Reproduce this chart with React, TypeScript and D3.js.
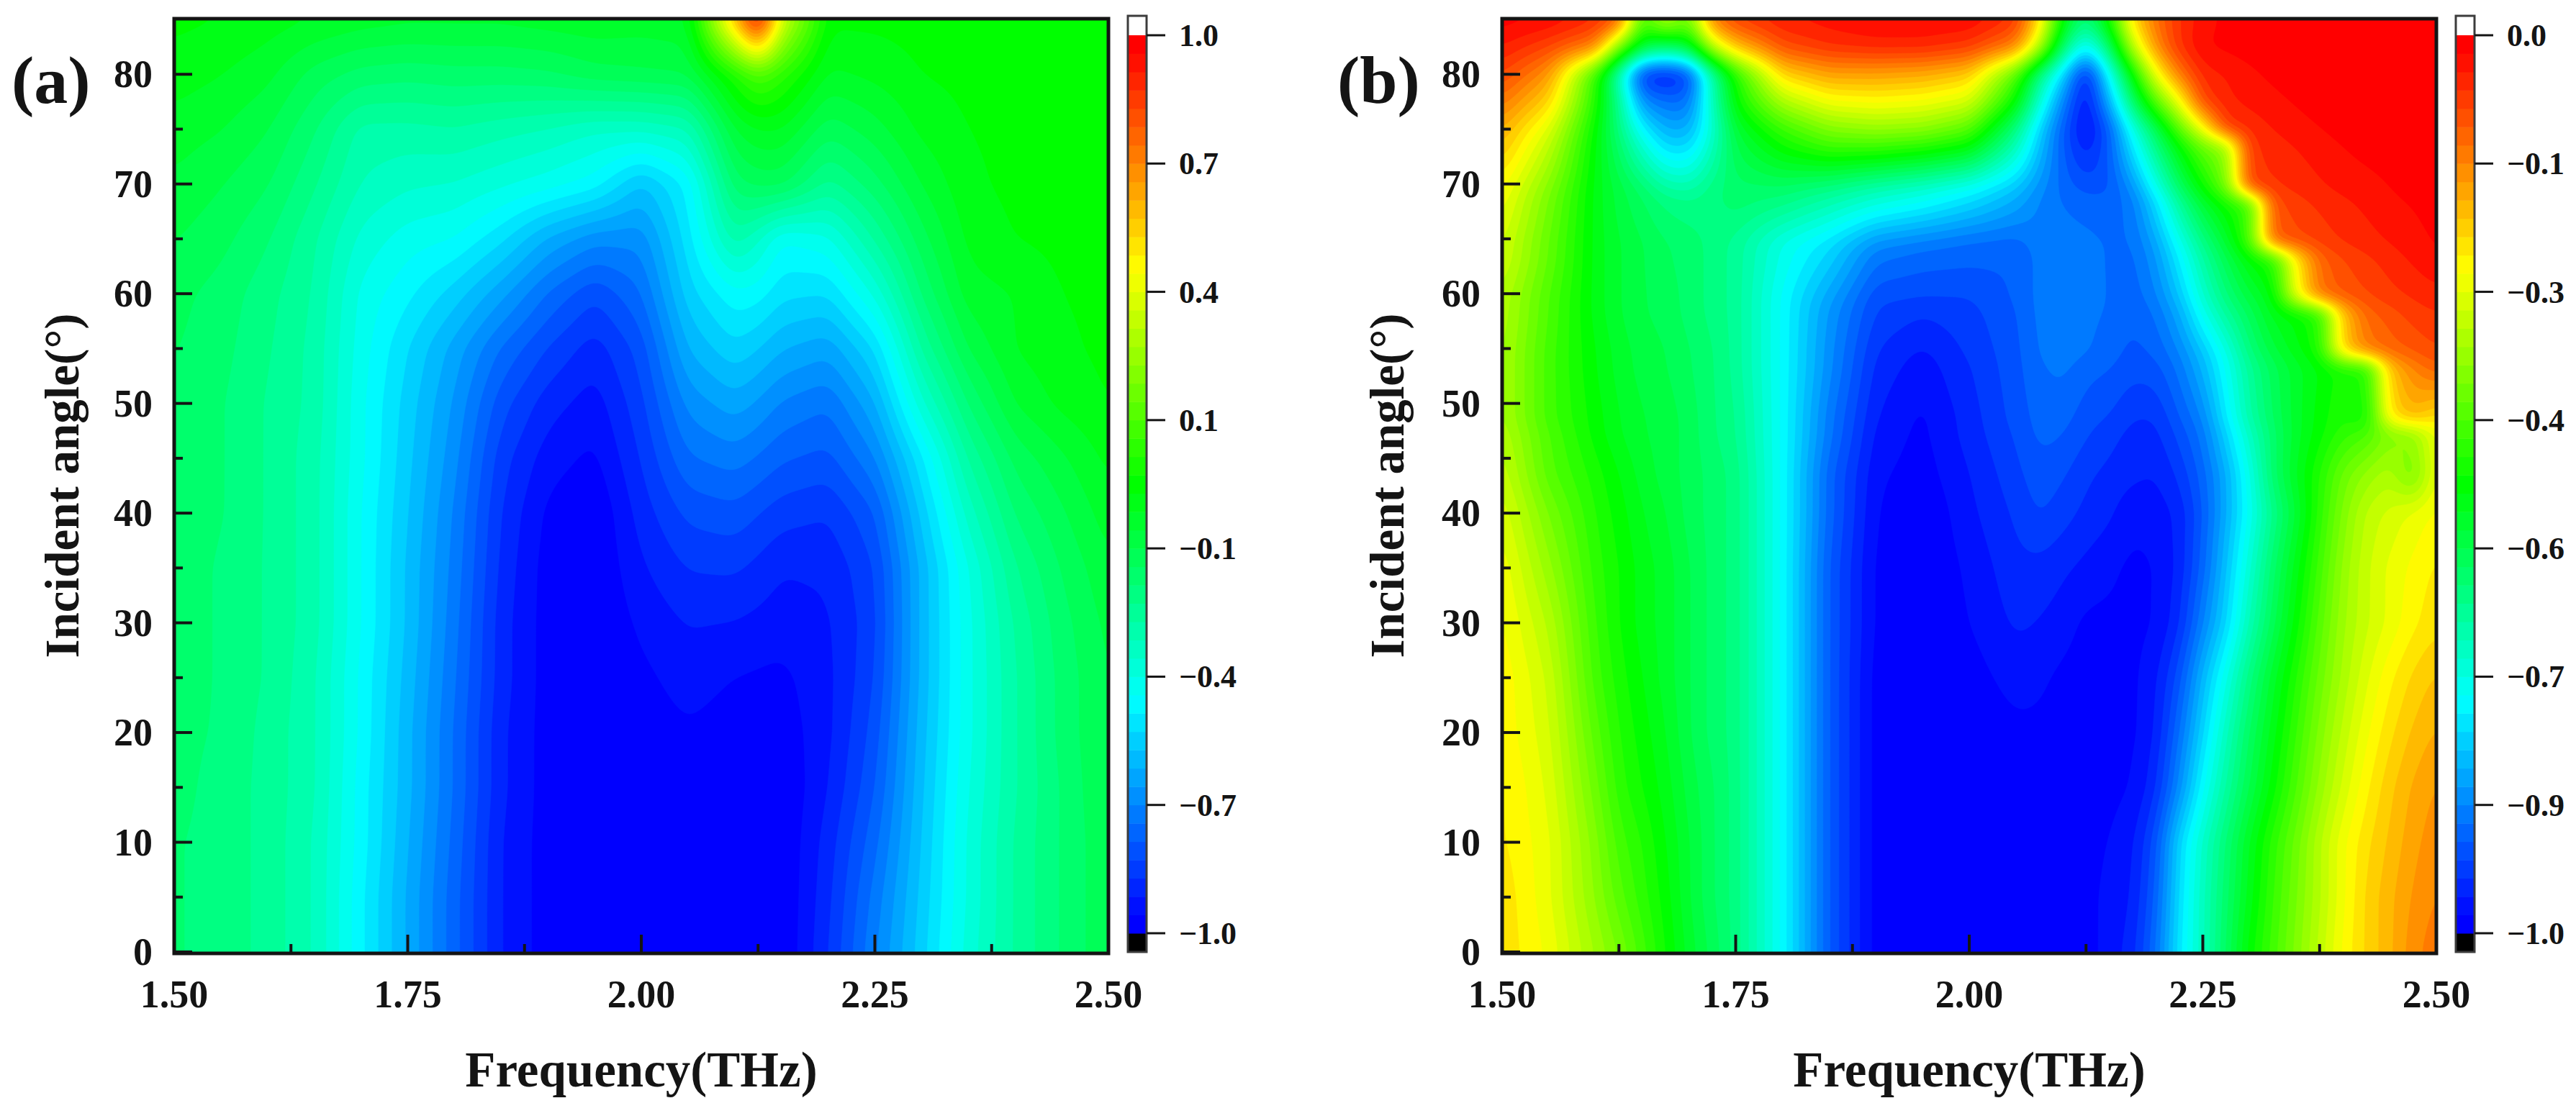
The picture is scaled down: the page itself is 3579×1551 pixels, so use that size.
import React, { useMemo } from "react";
import * as d3 from "d3";

const WIDTH = 3579;
const HEIGHT = 1551;

// ---- panel (a): values; rows from 85° down to 0°
const anglesA = [85, 80, 75, 70, 65, 60, 55, 50, 45, 40, 35, 30, 25, 20, 15, 10, 5, 0];
const freqsA = [1.5, 1.55, 1.6, 1.65, 1.7, 1.75, 1.8, 1.85, 1.9, 1.95, 2.0, 2.05, 2.1, 2.125, 2.15, 2.2, 2.25, 2.3, 2.35, 2.4, 2.45, 2.5];
const valuesA = [
  [-.01, -.02, -.04, -.06, -.08, -.09, -.09, -.09, -.08, -.07, -.08, -.07, .6, 1, .4, -.01, -.01, -.005, 0, 0, 0, 0],
  [-.04, -.06, -.09, -.16, -.2, -.21, -.2, -.2, -.19, -.16, -.15, -.14, .05, .15, .08, -.07, -.05, -.02, -.01, 0, 0, 0],
  [-.08, -.1, -.14, -.22, -.32, -.32, -.31, -.33, -.35, -.38, -.38, -.35, -.1, -.06, -.06, -.17, -.12, -.05, -.02, -.01, 0, 0],
  [-.11, -.14, -.18, -.26, -.35, -.38, -.39, -.42, -.45, -.49, -.6, -.5, -.2, -.17, -.17, -.28, -.2, -.1, -.03, -.01, -.01, 0],
  [-.14, -.17, -.22, -.3, -.4, -.45, -.47, -.54, -.64, -.7, -.7, -.53, -.32, -.38, -.47, -.44, -.3, -.16, -.05, -.02, -.01, 0],
  [-.17, -.2, -.25, -.31, -.44, -.5, -.57, -.66, -.76, -.83, -.76, -.57, -.48, -.49, -.54, -.55, -.42, -.22, -.08, -.06, -.02, -.01],
  [-.18, -.21, -.26, -.32, -.45, -.55, -.65, -.76, -.84, -.9, -.82, -.63, -.56, -.59, -.63, -.66, -.55, -.3, -.14, -.06, -.03, -.01],
  [-.19, -.22, -.27, -.32, -.46, -.57, -.68, -.82, -.9, -.94, -.85, -.7, -.65, -.68, -.72, -.75, -.64, -.4, -.22, -.1, -.05, -.02],
  [-.19, -.22, -.27, -.33, -.46, -.58, -.7, -.86, -.94, -.97, -.875, -.76, -.735, -.76, -.79, -.81, -.72, -.52, -.3, -.17, -.11, -.05],
  [-.2, -.22, -.27, -.33, -.47, -.59, -.72, -.88, -.97, -1, -.9, -.825, -.81, -.835, -.86, -.875, -.8, -.58, -.37, -.22, -.15, -.08],
  [-.2, -.23, -.27, -.33, -.47, -.6, -.73, -.89, -.98, -1, -.925, -.875, -.87, -.89, -.915, -.91, -.84, -.62, -.43, -.27, -.18, -.11],
  [-.2, -.23, -.27, -.33, -.47, -.6, -.74, -.9, -.98, -1, -.95, -.915, -.92, -.93, -.94, -.925, -.85, -.62, -.44, -.3, -.2, -.13],
  [-.2, -.23, -.27, -.34, -.48, -.61, -.75, -.9, -.98, -1, -.97, -.94, -.96, -.965, -.97, -.93, -.84, -.62, -.44, -.31, -.21, -.14],
  [-.21, -.23, -.28, -.34, -.48, -.62, -.76, -.91, -.98, -1, -.985, -.965, -.98, -.985, -.985, -.93, -.82, -.61, -.44, -.31, -.21, -.14],
  [-.21, -.24, -.28, -.34, -.49, -.62, -.76, -.91, -.98, -1, -1, -.98, -1, -1, -1, -.92, -.8, -.6, -.43, -.31, -.22, -.14],
  [-.22, -.24, -.28, -.35, -.49, -.63, -.77, -.92, -.98, -1, -1, -1, -1, -1, -1, -.9, -.77, -.59, -.42, -.3, -.22, -.15],
  [-.22, -.24, -.28, -.35, -.5, -.64, -.78, -.92, -.98, -1, -1, -1, -1, -1, -1, -.89, -.74, -.58, -.42, -.3, -.22, -.15],
  [-.22, -.24, -.28, -.35, -.5, -.64, -.78, -.92, -.98, -1, -1, -1, -1, -1, -1, -.88, -.72, -.57, -.41, -.3, -.22, -.15],
];

// ---- panel (b): rows bracket the shelves of the stair-stepped edge
const anglesB = [85, 82.5, 80, 77.5, 75, 73.5, 69.5, 68.5, 64.5, 63.5, 59.5, 58.5, 54.5, 53.5, 48.5, 47.5, 43.5, 40, 35, 30, 25, 20, 15, 10, 5, 0];
const freqsB = [1.5, 1.55, 1.6, 1.625, 1.65, 1.675, 1.7, 1.725, 1.75, 1.8, 1.85, 1.9, 1.95, 2.0, 2.05, 2.075, 2.1, 2.125, 2.15, 2.175, 2.2, 2.225, 2.25, 2.275, 2.3, 2.325, 2.35, 2.375, 2.4, 2.425, 2.45, 2.475, 2.5];
const valuesB = [
  [-.01, -.02, -.05, -.08, -.44, -.3, -.4, -.12, -.07, -.04, -.03, -.02, -.02, -.02, -.06, -.22, -.5, -.62, -.48, -.22, -.12, -.06, -.03, -.015, -.01, -.01, -.01, 0, 0, 0, 0, 0, 0],
  [-.04, -.08, -.14, -.38, -.55, -.6, -.55, -.32, -.2, -.09, -.06, -.05, -.05, -.07, -.14, -.32, -.6, -.76, -.6, -.32, -.15, -.06, -.02, -.015, -.01, -.01, -.01, 0, 0, 0, 0, 0, 0],
  [-.08, -.16, -.45, -.68, -.95, -.97, -.93, -.66, -.47, -.22, -.17, -.17, -.18, -.21, -.42, -.62, -.78, -.97, -.74, -.5, -.27, -.13, -.05, -.04, -.025, -.015, -.005, -.005, 0, 0, 0, 0, 0],
  [-.13, -.22, -.47, -.64, -.85, -.88, -.88, -.68, -.5, -.34, -.27, -.26, -.27, -.3, -.5, -.7, -.86, -.98, -.82, -.6, -.42, -.27, -.08, -.045, -.035, -.028, -.018, -.01, -.005, 0, 0, 0, 0],
  [-.18, -.29, -.5, -.62, -.75, -.82, -.82, -.7, -.55, -.45, -.38, -.36, -.37, -.42, -.62, -.78, -.9, -.98, -.9, -.72, -.58, -.42, -.27, -.07, -.055, -.04, -.03, -.021, -.012, -.008, -.005, 0, 0],
  [-.2, -.32, -.51, -.6, -.7, -.78, -.78, -.68, -.57, -.49, -.44, -.44, -.46, -.5, -.67, -.8, -.9, -.96, -.9, -.76, -.62, -.5, -.4, -.36, -.065, -.05, -.04, -.03, -.02, -.012, -.008, -.005, 0],
  [-.26, -.38, -.52, -.56, -.6, -.65, -.66, -.62, -.6, -.6, -.63, -.67, -.7, -.74, -.8, -.85, -.885, -.905, -.905, -.85, -.73, -.6, -.5, -.4, -.08, -.065, -.055, -.045, -.035, -.03, -.021, -.012, -.008],
  [-.27, -.39, -.52, -.56, -.59, -.62, -.63, -.62, -.6, -.62, -.66, -.7, -.73, -.77, -.82, -.86, -.88, -.89, -.89, -.87, -.77, -.64, -.54, -.48, -.44, -.09, -.07, -.055, -.045, -.035, -.025, -.018, -.01],
  [-.3, -.41, -.52, -.55, -.57, -.59, -.6, -.62, -.64, -.72, -.77, -.85, -.87, -.885, -.89, -.865, -.865, -.87, -.88, -.88, -.83, -.73, -.63, -.55, -.44, -.11, -.09, -.075, -.06, -.05, -.04, -.03, -.018],
  [-.3, -.41, -.52, -.55, -.57, -.59, -.6, -.62, -.64, -.72, -.78, -.87, -.885, -.89, -.895, -.87, -.865, -.87, -.88, -.885, -.84, -.75, -.65, -.57, -.5, -.46, -.24, -.11, -.08, -.065, -.05, -.035, -.02],
  [-.33, -.43, -.52, -.55, -.57, -.58, -.6, -.62, -.64, -.74, -.83, -.915, -.92, -.92, -.895, -.87, -.865, -.865, -.88, -.89, -.865, -.8, -.7, -.62, -.56, -.52, -.28, -.13, -.1, -.085, -.07, -.06, -.05],
  [-.33, -.43, -.52, -.55, -.57, -.58, -.6, -.62, -.64, -.74, -.84, -.92, -.935, -.925, -.9, -.87, -.865, -.87, -.88, -.895, -.875, -.82, -.72, -.64, -.58, -.52, -.5, -.46, -.2, -.11, -.09, -.07, -.06],
  [-.34, -.44, -.51, -.54, -.56, -.57, -.59, -.61, -.64, -.74, -.85, -.94, -.965, -.935, -.905, -.875, -.865, -.875, -.89, -.905, -.895, -.86, -.8, -.72, -.62, -.56, -.52, -.48, -.22, -.14, -.115, -.1, -.085],
  [-.34, -.44, -.51, -.54, -.56, -.57, -.59, -.61, -.64, -.74, -.85, -.945, -.97, -.94, -.905, -.88, -.87, -.89, -.895, -.91, -.905, -.87, -.81, -.73, -.64, -.58, -.54, -.51, -.48, -.47, -.2, -.14, -.1],
  [-.34, -.44, -.5, -.53, -.55, -.56, -.58, -.61, -.63, -.74, -.87, -.96, -.985, -.95, -.91, -.89, -.89, -.91, -.92, -.94, -.94, -.9, -.86, -.76, -.66, -.59, -.54, -.5, -.47, -.5, -.24, -.19, -.24],
  [-.33, -.43, -.5, -.53, -.55, -.56, -.58, -.61, -.63, -.74, -.87, -.965, -.985, -.95, -.915, -.89, -.895, -.915, -.93, -.945, -.945, -.91, -.87, -.78, -.68, -.6, -.54, -.5, -.46, -.44, -.38, -.36, -.27],
  [-.31, -.42, -.48, -.51, -.54, -.56, -.58, -.6, -.62, -.74, -.89, -.975, -.99, -.96, -.925, -.905, -.915, -.935, -.945, -.955, -.96, -.935, -.89, -.82, -.72, -.6, -.53, -.47, -.4, -.36, -.33, -.4, -.27],
  [-.29, -.39, -.47, -.5, -.53, -.55, -.58, -.6, -.62, -.74, -.89, -.98, -1, -.965, -.935, -.915, -.93, -.945, -.955, -.975, -.97, -.955, -.9, -.82, -.73, -.63, -.55, -.46, -.38, -.32, -.3, -.28, -.26],
  [-.27, -.36, -.46, -.49, -.52, -.54, -.57, -.6, -.62, -.74, -.9, -.985, -1, -.975, -.945, -.945, -.955, -.965, -.975, -.985, -.98, -.955, -.89, -.8, -.7, -.6, -.52, -.44, -.36, -.31, -.28, -.26, -.24],
  [-.26, -.33, -.45, -.49, -.52, -.54, -.57, -.6, -.62, -.74, -.9, -.985, -1, -.98, -.955, -.96, -.97, -.985, -.985, -.985, -.98, -.945, -.86, -.78, -.67, -.58, -.5, -.42, -.35, -.31, -.28, -.25, -.23],
  [-.25, -.31, -.44, -.48, -.51, -.54, -.57, -.6, -.62, -.74, -.9, -.99, -1, -.99, -.97, -.975, -.985, -.99, -.99, -.985, -.965, -.91, -.81, -.72, -.62, -.54, -.47, -.4, -.34, -.29, -.25, -.22, -.2],
  [-.25, -.3, -.42, -.47, -.5, -.53, -.57, -.6, -.62, -.74, -.9, -.99, -1, -1, -.985, -.985, -.99, -.99, -.99, -.985, -.96, -.88, -.78, -.68, -.59, -.52, -.45, -.38, -.32, -.27, -.23, -.2, -.18],
  [-.24, -.29, -.4, -.46, -.49, -.52, -.56, -.59, -.62, -.74, -.9, -.99, -1, -1, -.99, -.99, -.99, -.99, -.985, -.98, -.945, -.85, -.74, -.65, -.57, -.5, -.43, -.36, -.3, -.25, -.21, -.18, -.16],
  [-.24, -.28, -.38, -.44, -.47, -.51, -.55, -.59, -.62, -.74, -.9, -.99, -1, -1, -1, -1, -.99, -.985, -.98, -.965, -.91, -.78, -.69, -.61, -.53, -.46, -.4, -.33, -.27, -.23, -.2, -.17, -.15],
  [-.23, -.28, -.37, -.42, -.46, -.5, -.55, -.59, -.62, -.74, -.9, -.99, -1, -1, -1, -1, -1, -.985, -.975, -.96, -.895, -.77, -.68, -.6, -.52, -.45, -.39, -.33, -.27, -.22, -.19, -.16, -.14],
  [-.23, -.27, -.35, -.39, -.44, -.49, -.54, -.58, -.62, -.74, -.9, -.99, -1, -1, -1, -1, -1, -.99, -.97, -.95, -.88, -.76, -.68, -.59, -.5, -.44, -.38, -.32, -.26, -.22, -.19, -.15, -.13],
];

// ---- axes and labels
const xMajor = [1.5, 1.75, 2.0, 2.25, 2.5];
const xMinor = [1.625, 1.875, 2.125, 2.375];
const yMajor = [0, 10, 20, 30, 40, 50, 60, 70, 80];
const yMinor = [5, 15, 25, 35, 45, 55, 65, 75];
const barLabelsA = ["1.0", "0.7", "0.4", "0.1", "−0.1", "−0.4", "−0.7", "−1.0"];
const barLabelsB = ["0.0", "−0.1", "−0.3", "−0.4", "−0.6", "−0.7", "−0.9", "−1.0"];
const BAND_COUNT = 49;

const FONT = "'Liberation Serif', 'Times New Roman', serif";
const INK = "#141414";

const rainbow = d3
  .scaleLinear<string>()
  .domain([0.015, 0.26, 0.5, 0.74, 0.985])
  .range(["#0000ff", "#00ffff", "#00ff00", "#ffff00", "#ff0000"])
  .clamp(true);

const bandColor = (i: number) => rainbow((i + 0.5) / BAND_COUNT);

type PanelProps = {
  tag: string;
  tagX: number;
  left: number;
  right: number;
  angles: number[];
  freqs: number[];
  values: number[][];
  vMin: number;
  vMax: number;
  barLeft: number;
  barLabels: string[];
  titleX: number;
  clipId: string;
};

const TOP = 27;
const BOTTOM = 1323;
const GRID = 640;

function Panel(p: PanelProps) {
  const x = d3.scaleLinear().domain([1.5, 2.5]).range([p.left, p.right]);
  const y = d3.scaleLinear().domain([0, 85]).range([BOTTOM, TOP]);

  const paths = useMemo(() => {
    // resample the read table on a fine regular lattice for the contour routine
    const colIndex = d3.scaleLinear().domain(p.freqs).range(p.freqs.map((_, i) => i)).clamp(true);
    const ang = [...p.angles].reverse();
    const rowIndex = d3.scaleLinear().domain(ang).range(ang.map((_, i) => p.angles.length - 1 - i)).clamp(true);
    const data = new Float64Array(GRID * GRID);
    const fScale = d3.scaleLinear().domain([0, GRID - 1]).range([1.5, 2.5]);
    const aScale = d3.scaleLinear().domain([0, GRID - 1]).range([85, 0]);
    for (let j = 0; j < GRID; j++) {
      const rf = rowIndex(aScale(j));
      const r0 = Math.min(Math.floor(rf), p.angles.length - 2);
      const tr = rf - r0;
      for (let i = 0; i < GRID; i++) {
        const cf = colIndex(fScale(i));
        const c0 = Math.min(Math.floor(cf), p.freqs.length - 2);
        const tc = cf - c0;
        const top = p.values[r0][c0] * (1 - tc) + p.values[r0][c0 + 1] * tc;
        const bot = p.values[r0 + 1][c0] * (1 - tc) + p.values[r0 + 1][c0 + 1] * tc;
        data[j * GRID + i] = top * (1 - tr) + bot * tr;
      }
    }
    d3.blur2({ data, width: GRID, height: GRID }, 5);
    const step = (p.vMax - p.vMin) / BAND_COUNT;
    const thresholds = d3.range(1, BAND_COUNT).map((i) => p.vMin + i * step);
    const contours = d3.contours().size([GRID, GRID]).thresholds(thresholds)(Array.from(data));
    const px = d3.scaleLinear().domain([0.5, GRID - 0.5]).range([p.left, p.right]);
    const py = d3.scaleLinear().domain([0.5, GRID - 0.5]).range([TOP, BOTTOM]);
    const path = d3.geoPath(
      d3.geoTransform({
        point(this: any, a: number, b: number) {
          this.stream.point(px(a), py(b));
        },
      })
    );
    return contours.map((c, i) => ({ d: path(c as any) || "", fill: bandColor(i + 1) }));
  }, []);

  const barRight = p.barLeft + 26;
  const barY = d3.scaleLinear().domain([p.vMin, p.vMax]).range([1297, 49]);
  const barStep = (p.vMax - p.vMin) / BAND_COUNT;
  const barTick = d3.scaleLinear().domain([0, p.barLabels.length - 1]).range([49, 1297]);

  return (
    <g>
      <clipPath id={p.clipId}>
        <rect x={p.left} y={TOP} width={p.right - p.left} height={BOTTOM - TOP} />
      </clipPath>
      <g clipPath={`url(#${p.clipId})`}>
        <rect x={p.left} y={TOP} width={p.right - p.left} height={BOTTOM - TOP} fill={bandColor(0)} />
        {paths.map((s, i) => (
          <path key={i} d={s.d} fill={s.fill} stroke={s.fill} strokeWidth={0.6} />
        ))}
      </g>

      {yMajor.map((v) => (
        <line key={v} x1={p.left} x2={p.left + 25} y1={y(v)} y2={y(v)} stroke={INK} strokeWidth={4} />
      ))}
      {yMinor.map((v) => (
        <line key={v} x1={p.left} x2={p.left + 12} y1={y(v)} y2={y(v)} stroke={INK} strokeWidth={4} />
      ))}
      {xMajor.map((v) => (
        <line key={v} x1={x(v)} x2={x(v)} y1={BOTTOM} y2={BOTTOM - 24} stroke={INK} strokeWidth={4} />
      ))}
      {xMinor.map((v) => (
        <line key={v} x1={x(v)} x2={x(v)} y1={BOTTOM} y2={BOTTOM - 11} stroke={INK} strokeWidth={4} />
      ))}
      <rect x={p.left} y={TOP - 1} width={p.right - p.left} height={BOTTOM - TOP + 3} fill="none" stroke={INK} strokeWidth={5} />

      {yMajor.map((v) => (
        <text key={v} x={p.left - 30} y={y(v) + 18} textAnchor="end" fontFamily={FONT} fontWeight="bold" fontSize={54} fill={INK}>
          {v}
        </text>
      ))}
      {xMajor.map((v) => (
        <text key={v} x={x(v)} y={1400} textAnchor="middle" fontFamily={FONT} fontWeight="bold" fontSize={54} fill={INK}>
          {v.toFixed(2)}
        </text>
      ))}
      <text x={(p.left + p.right) / 2} y={1510} textAnchor="middle" fontFamily={FONT} fontWeight="bold" fontSize={69} fill={INK}>
        Frequency(THz)
      </text>
      <text
        transform={`translate(${p.titleX},${(TOP + BOTTOM) / 2}) rotate(-90)`}
        textAnchor="middle"
        fontFamily={FONT}
        fontWeight="bold"
        fontSize={67}
        fill={INK}
      >
        Incident angle(°)
      </text>
      <text x={p.tagX} y={143} fontFamily={FONT} fontWeight="bold" fontSize={94} fill={INK}>
        {p.tag}
      </text>

      {/* colour bar */}
      <rect x={p.barLeft} y={22} width={26} height={27} fill="#ffffff" />
      <rect x={p.barLeft} y={1297} width={26} height={26} fill="#000000" />
      {d3.range(BAND_COUNT).map((i) => {
        const top = barY(p.vMin + (i + 1) * barStep);
        const bot = barY(p.vMin + i * barStep);
        return <rect key={i} x={p.barLeft} y={top} width={26} height={bot - top + 0.5} fill={bandColor(i)} />;
      })}
      <rect x={p.barLeft} y={22} width={26} height={1301} fill="none" stroke="#3c3c3c" strokeWidth={3} />
      {p.barLabels.map((t, i) => (
        <g key={t}>
          <line x1={barRight} x2={barRight + 26} y1={barTick(i)} y2={barTick(i)} stroke={INK} strokeWidth={3} />
          <text x={barRight + 45} y={barTick(i) + 15} fontFamily={FONT} fontWeight="bold" fontSize={44} fill={INK}>
            {t}
          </text>
        </g>
      ))}
    </g>
  );
}

export default function App() {
  return (
    <svg
      width={WIDTH}
      height={HEIGHT}
      viewBox={`0 0 ${WIDTH} ${HEIGHT}`}
      style={{ position: "absolute", left: 0, top: 0, background: "#ffffff" }}
    >
      <Panel
        tag="(a)"
        tagX={16}
        left={242}
        right={1540}
        angles={anglesA}
        freqs={freqsA}
        values={valuesA}
        vMin={-1}
        vMax={1}
        barLeft={1567}
        barLabels={barLabelsA}
        titleX={109}
        clipId="clipA"
      />
      <Panel
        tag="(b)"
        tagX={1858}
        left={2087}
        right={3385}
        angles={anglesB}
        freqs={freqsB}
        values={valuesB}
        vMin={-1}
        vMax={0}
        barLeft={3412}
        barLabels={barLabelsB}
        titleX={1950}
        clipId="clipB"
      />
    </svg>
  );
}
